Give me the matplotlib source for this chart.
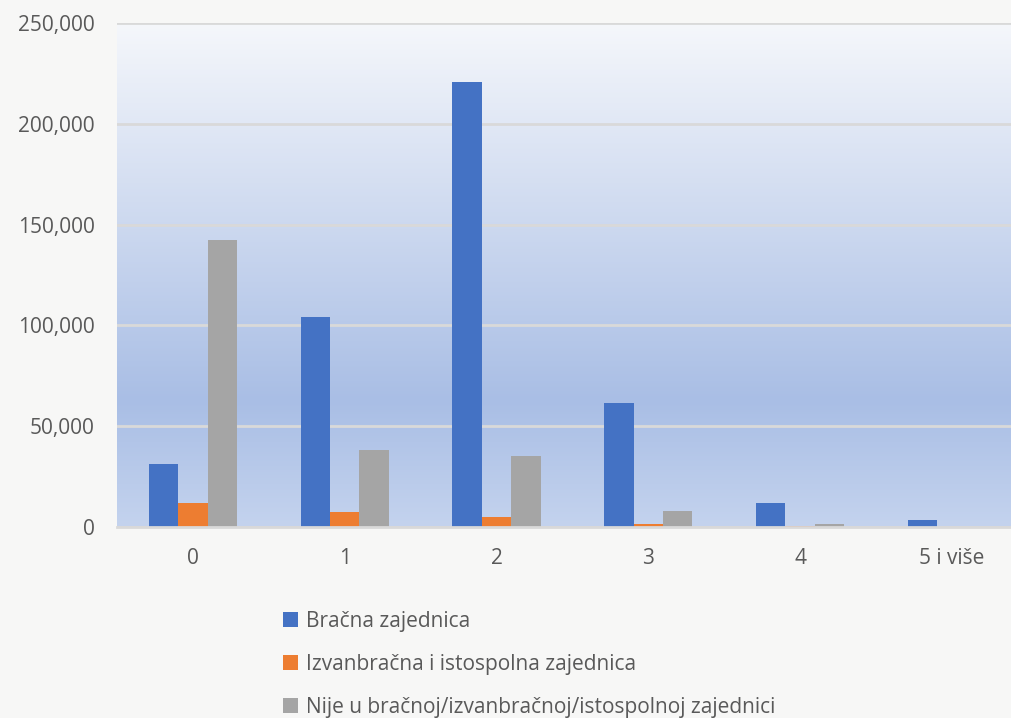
import numpy as np
import matplotlib.pyplot as plt
from matplotlib.colors import LinearSegmentedColormap

categories = ["0", "1", "2", "3", "4", "5 i više"]
bracna = [31200, 104000, 220700, 61500, 12100, 3500]
izvanbracna = [12000, 7300, 4800, 1500, 300, 100]
nije = [142400, 38200, 35400, 7800, 1500, 200]
series_names = ["Bračna zajednica",
                "Izvanbračna i istospolna zajednica",
                "Nije u bračnoj/izvanbračnoj/istospolnoj zajednici"]
colors = ["#4472c4", "#ed7d31", "#a5a5a5"]

plt.rcParams['font.family'] = ['Open Sans', 'DejaVu Sans']
txt = "#595959"

fig = plt.figure(figsize=(10.11, 7.18), dpi=100, facecolor="#f7f7f6")
ax = fig.add_axes([117 / 1011, 1 - 527 / 718, 1 - 117 / 1011, 504 / 718])

x = np.arange(len(categories))
w = 0.194
ymax = 250000
xmax = -0.5 + 894 / 151.8

# gradient background of plot area (top light -> blue -> slightly lighter)
cmap = LinearSegmentedColormap.from_list(
    "bg", [(0, "#f5f7fb"), (0.75, "#a9bee5"), (1.0, "#c4d3ee")])
grad = np.linspace(0, 1, 256).reshape(-1, 1)
ax.imshow(grad, cmap=cmap, aspect="auto", extent=[-0.5, xmax, 0, ymax],
          origin="upper", zorder=0, interpolation="bilinear")

for i, vals in enumerate([bracna, izvanbracna, nije]):
    ax.bar(x + (i - 1) * w, vals, w, color=colors[i], label=series_names[i],
           zorder=3)

ax.set_xlim(-0.5, xmax)
ax.set_ylim(0, ymax)
ax.set_yticks(np.arange(0, 250001, 50000))
ax.yaxis.set_major_formatter(plt.FuncFormatter(lambda v, p: f"{int(v):,}"))
ax.set_xticks(x)
ax.set_xticklabels(categories)
ax.grid(axis="y", color="#d9d9d9", linewidth=2, zorder=1)
ax.set_axisbelow(False)
for s in ["top", "right", "left"]:
    ax.spines[s].set_visible(False)
ax.spines["bottom"].set_color("#d9d9d9")
ax.spines["bottom"].set_linewidth(2)
ax.spines["bottom"].set_zorder(4)
ax.tick_params(length=0, labelsize=15, labelcolor=txt)
ax.tick_params(axis="y", pad=16)
ax.tick_params(axis="x", pad=15)

fig.legend(loc="upper left", bbox_to_anchor=(283 / 1011, 1 - 611 / 718),
           frameon=False, fontsize=15, labelcolor=txt, handlelength=0.7,
           handleheight=0.7, handletextpad=0.4, labelspacing=1.05,
           borderaxespad=0, borderpad=0)

fig.savefig("out.png", dpi=100, facecolor=fig.get_facecolor())
